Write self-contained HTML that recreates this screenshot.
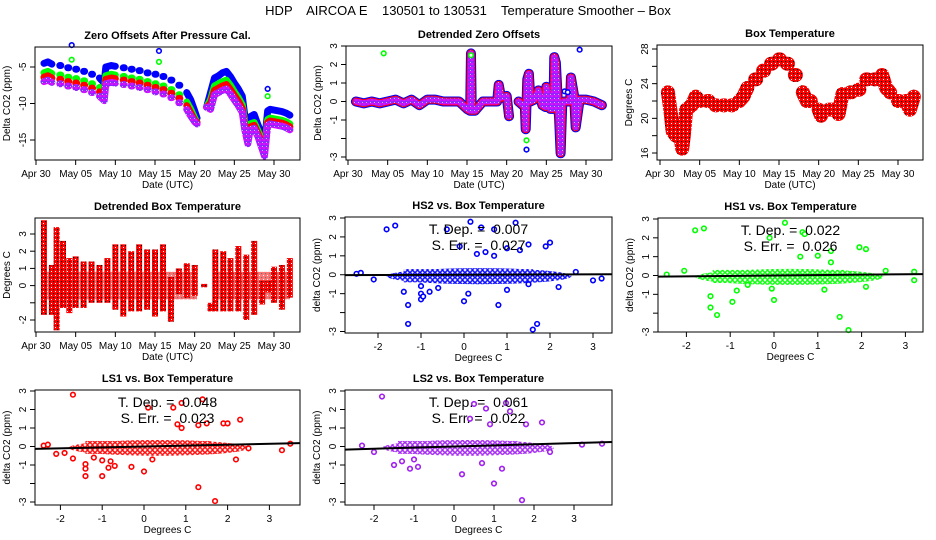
<!DOCTYPE html>
<html><head><meta charset="utf-8"><style>
html,body{margin:0;padding:0;background:#fff;}
svg{display:block;font-family:"Liberation Sans",sans-serif;}
</style></head><body>
<svg id="chart" width="936" height="540" viewBox="0 0 936 540">
<defs>
<pattern id="hatchMag" width="4" height="4" patternUnits="userSpaceOnUse"><rect width="4" height="4" fill="#ff00ff"/><circle cx="2" cy="2" r="1.2" fill="none" stroke="#4040ff" stroke-width="0.9"/><rect x="2" y="2" width="0.8" height="0.8" fill="#fff"/></pattern>
<pattern id="hatchRed" width="4" height="4" patternUnits="userSpaceOnUse"><rect width="4" height="4" fill="#ff0000"/><rect x="1" y="1" width="1.2" height="1.2" fill="#000"/><rect x="3" y="3" width="1" height="1" fill="#fff"/></pattern>
<pattern id="dotBlue" width="5" height="5" patternUnits="userSpaceOnUse"><rect width="5" height="5" fill="#fff"/><circle cx="2.5" cy="2.5" r="1.8" fill="none" stroke="#0000ff" stroke-width="1.4"/></pattern>
<pattern id="dotGreen" width="5" height="5" patternUnits="userSpaceOnUse"><rect width="5" height="5" fill="#fff"/><circle cx="2.5" cy="2.5" r="1.8" fill="none" stroke="#00ff00" stroke-width="1.4"/></pattern>
<pattern id="dotRed" width="5" height="5" patternUnits="userSpaceOnUse"><rect width="5" height="5" fill="#fff"/><circle cx="2.5" cy="2.5" r="1.8" fill="none" stroke="#ff0000" stroke-width="1.4"/></pattern>
<pattern id="dotMag" width="5" height="5" patternUnits="userSpaceOnUse"><rect width="5" height="5" fill="#fff"/><circle cx="2.5" cy="2.5" r="1.8" fill="none" stroke="#a020f0" stroke-width="1.4"/></pattern>
</defs>
<text x="468" y="15" text-anchor="middle" font-size="13" style="white-space:pre">HDP    AIRCOA E    130501 to 130531    Temperature Smoother – Box</text>
</svg>
<script>
// ---------- data ----------
const dateTicks = [0,5,10,15,20,25,30];
const dateTickLabels = ["Apr 30","May 05","May 10","May 15","May 20","May 25","May 30"];
const zeroTimes = [1,1.5,2,3,4,5,6,7,8,8.6,8.8,9.5,10,11,12,13,14,15,16,17,18,19,19.5,20,20.3,21.5,22,22.5,23,23.5,24,24.5,25,25.5,26,26.3,26.7,27,27.5,28,28.4,28.8,29.2,29.5,30,30.5,31,31.5,32];
const zeroHS2 = [-4.5,-4.3,-4.6,-4.8,-5.1,-5.3,-5.6,-6.0,-6.5,-7.2,-5.0,-4.8,-4.9,-5.1,-5.3,-5.5,-5.8,-6.0,-6.3,-6.8,-7.5,-8.5,-9.5,-11,-12,-10.5,-8.5,-6.5,-6.2,-5.8,-5.6,-6.3,-7.2,-8.0,-9.0,-11.5,-13.5,-11.8,-11.5,-13,-14,-15.5,-11,-10.8,-10.9,-11.0,-11.1,-11.3,-11.6];
const zeroHS1 = [-5.8,-5.6,-5.9,-6.1,-6.4,-6.6,-6.9,-7.3,-7.8,-8.5,-6.2,-6.0,-6.1,-6.3,-6.5,-6.7,-7.0,-7.3,-7.6,-8.1,-8.8,-9.8,-10.8,-12.0,-12.6,-10.5,-9.5,-7.6,-7.3,-7.0,-6.8,-7.5,-8.4,-9.2,-10.2,-12.5,-14.5,-12.8,-12.6,-13.8,-15,-16.3,-12.2,-12.0,-12.1,-12.2,-12.3,-12.5,-12.8];
const zeroLS1 = [-6.4,-6.2,-6.5,-6.7,-7.0,-7.2,-7.5,-7.9,-8.4,-9.0,-6.7,-6.5,-6.6,-6.8,-7.0,-7.2,-7.5,-7.8,-8.1,-8.6,-9.3,-10.3,-11.3,-12.3,-12.6,-10.5,-10.0,-8.2,-7.9,-7.6,-7.4,-8.1,-8.9,-9.7,-10.7,-13,-15,-13.2,-13.0,-14.2,-15.5,-16.8,-12.6,-12.4,-12.5,-12.6,-12.7,-12.9,-13.2];
const zeroLS2 = [-7.0,-6.8,-7.1,-7.3,-7.6,-7.8,-8.1,-8.5,-9.0,-9.6,-7.3,-7.1,-7.2,-7.4,-7.6,-7.8,-8.1,-8.4,-8.7,-9.2,-9.9,-10.8,-11.7,-12.5,-12.8,-10.5,-10.8,-8.8,-8.5,-8.2,-8.0,-8.7,-9.5,-10.3,-11.2,-13.5,-15.5,-13.6,-13.4,-14.6,-15.9,-17.2,-13.0,-12.8,-12.9,-13.0,-13.1,-13.3,-13.6];
const zeroOutT = [4.5,4.5,15.5,15.5,29.2,29.2];
const zeroOutV = [-2,-4,-2.8,-4.3,-8,-9];
const zeroOutC = ["#0000ff","#00ff00","#0000ff","#00ff00","#0000ff","#00ff00"];

const detT = [1,2,3,4,5,6,7,8,9,10,11,12,13,14,15,15.4,15.5,15.6,16,17,18,18.8,19,19.3,20,20.3,21.5,22.3,22.4,22.6,22.8,23,23.5,24,24.5,24.9,25,25.5,25.9,26,26.2,26.5,26.6,26.8,27,27.2,27.6,28,28.1,28.5,28.7,29.2,29.5,30,31,32];
const detV = [0,-0.1,0,-0.1,0,0.1,-0.1,0.1,-0.2,0.1,0.1,0,0,0,-0.4,-0.5,2.6,-0.5,-0.5,0,0,0,0.9,0.2,0.3,-0.8,0,-0.3,-1.5,1.2,1.5,0,0.1,0.6,-0.2,-0.3,0.8,-0.4,-0.4,2.4,2.1,-0.4,-0.8,-2.8,-0.2,0,0,0,1.3,0.3,-1.4,0.1,0.1,0.1,0,-0.2];
const detOutT = [4.5,15.5,22.5,22.5,27.3,27.7,29.2];
const detOutV = [2.6,2.5,-2.1,-2.6,0.55,0.5,2.8];
const detOutC = ["#00ff00","#00ff00","#00ff00","#0000ff","#0000ff","#0000ff","#0000ff"];

const boxT = [1,1.3,1.6,2,2.5,2.8,3,3.3,4,4.5,5,6,7,8,9,10,10.5,11,12,13,14,15,16,17,18,18.5,19,20,20.3,21.3,22.2,22.5,23,24,25,26,27,28,28.5,29,30,31,31.5,32];
const boxV = [23,21,18.5,18,18.5,16.5,18,21,21.5,22.5,22,22,21.5,21.5,21.5,22,22.5,23.5,24.5,25.5,26.3,26.8,26.3,25,23,22,22,21,20.3,21,21,20.5,22.8,23,23.3,24.5,24.5,25,23.5,23,22,22,21,22.5];

const dbT = [1,2,2.6,3.4,4.2,5,6,7,8,9,10,11,12,13,14,15,16,17,18,19,20,21.2,22,22.6,23.6,24.5,25.5,26.5,27.5,28.5,29.3,30,31,32];
const dbHi = [3.8,1.2,3.4,2.6,1.6,1.7,1.4,1.4,1.2,1.6,2.4,2.4,2,2.4,2.1,2.1,2.4,0.5,1,1.3,1.2,0.1,-1,2.1,2,1.6,2.3,1.8,2.6,0.3,0.3,1.1,1.2,1.6];
const dbLo = [-1.7,-1.7,-2.6,-1.3,-1.6,-1.3,-1.3,-1,-1,-1,-1.4,-1.8,-1.5,-1.5,-1.4,-1.8,-1.5,-2.1,-0.5,-0.7,-0.6,-0.1,-1.5,-1.5,-1.5,-1.5,-1.5,-2,-1.7,-1.1,-0.4,-1,-1.4,-0.7];

const hs2X = [-1.8,-1.6,-0.4,0.15,0.4,0.7,1.2,-0.1,0.3,0.5,0.7,1,1.3,1.5,1.9,2,-1.4,-1.3,-1.3,-1,-1,-0.8,0,0.1,0.8,1,1.6,1.7,3,3.2,-2.5,-2.4,-2.1,-0.6,2.2,1.5,-1.0,-0.95,2.6];
const hs2Y = [2.4,2.6,2.4,2.8,2.5,2.4,2.75,1.5,1.1,1.2,1,1.4,1.3,1.6,1.5,1.7,-0.9,-1.6,-2.6,-0.6,-1.3,-0.9,-1.4,-1,-1.6,-0.8,-2.9,-2.6,-0.3,-0.2,0.05,0.1,-0.25,-0.7,-0.65,-0.5,-1.0,-1.15,0.15];
const hs1X = [-1.6,-1.8,0.25,0.65,1.0,1.95,2.1,0.6,-2.45,-1.45,-1.45,-1.3,-0.95,-0.6,1.5,1.7,3.2,3.2,2.55,2.1,1.3,0,-2.05,1.15,-0.85,-0.1,0.7,-0.05,1.3];
const hs1Y = [2.5,2.4,2.8,2.3,1.05,1.5,1.4,1.0,0.05,-1.1,-1.7,-2.1,-1.4,-0.5,-2.2,-2.9,0.2,-0.25,0.25,-0.6,1.3,-1.3,0.25,-0.75,-0.8,2.0,2.2,-0.7,0.7];
const ls1X = [-1.7,0.1,0.7,0.9,1.4,0.9,1.3,1.5,1.9,2.0,2.3,0.8,-1.7,-1.4,-1.4,-1.4,-1,-1,-0.8,-0.85,-0.7,-0.3,0,0.2,1.3,1.7,2.2,3.3,3.5,-2.4,-2.3,-2.1,-1.9,-1.2,2.5];
const ls1Y = [2.8,2.1,2.1,2.35,2.55,1,1.15,1.25,1.25,1.25,1.45,1.2,-0.65,-0.95,-1.2,-1.6,-0.75,-1.6,-0.8,-1.15,-1.05,-1.1,-1.35,-0.7,-2.2,-2.95,-0.7,-0.2,0.15,0.05,0.1,-0.4,-0.35,-0.6,-0.1];
const ls2X = [-1.8,0.5,0.8,1.3,1.4,0.9,1.8,2.2,-1.1,-1.5,-1.3,-1,0.2,1.2,1.7,1,3.2,3.7,-2.3,-2,0.7,2.4,-0.9,0.4];
const ls2Y = [2.7,2.3,2.05,2.35,1.9,1.2,1.2,1.3,-1.2,-1.0,-0.8,-0.7,-1.5,-1.2,-2.9,-2.0,0.1,0.15,0.05,-0.3,-0.9,-0.3,-1.1,1.5];
const scatterTicks = [-2,-1,0,1,2,3];
const slopes = [0.007,0.022,0.048,0.061];
const serrs = [0.027,0.026,0.023,0.022];

// ---------- helpers ----------
const svg = document.getElementById('chart');
const NS = 'http://www.w3.org/2000/svg';
function mk(tag, attrs, parent){
  const e = document.createElementNS(NS, tag);
  for (const k in attrs) e.setAttribute(k, attrs[k]);
  (parent||svg).appendChild(e);
  return e;
}
function lin(d0,d1,r0,r1){ return v => r0 + (v-d0)*(r1-r0)/(d1-d0); }

function panel(p){
  const g = mk('g', {});
  
  
  const [l,t,r,b] = p.box;
  const cx = (l+r)/2;
  const ti = mk('text', {x:cx, y:t-8, 'text-anchor':'middle', 'font-size':'11', 'font-weight':'bold'}, g);
  ti.textContent = p.title;
  
  
  const plot = mk('g', {}, g);
  
  
  const xa = mk('g', {}, g);
  
  
  const xs = p.xTicks.map(p.sx);
  mk('line', {x1:xs[0], x2:xs[xs.length-1], y1:b, y2:b, stroke:'#000'}, xa);
  p.xTicks.forEach((v,i)=>{
    mk('line', {x1:xs[i], x2:xs[i], y1:b, y2:b+5, stroke:'#000'}, xa);
    const tx = mk('text', {x:xs[i], y:b+17, 'text-anchor':'middle', 'font-size':'10'}, xa);
    tx.textContent = p.xLabels[i];
    
    
  });
  const xt = mk('text', {x:cx, y:b+28, 'text-anchor':'middle', 'font-size':'10'}, g);
  xt.textContent = p.xTitle;
  
  
  const ya = mk('g', {}, g);
  
  
  const ys = p.yTicks.map(p.sy);
  mk('line', {x1:l, x2:l, y1:ys[0], y2:ys[ys.length-1], stroke:'#000'}, ya);
  p.yTicks.forEach((v,i)=>{
    mk('line', {x1:l-5, x2:l, y1:ys[i], y2:ys[i], stroke:'#000'}, ya);
    if (p.yLabels[i] !== '') {
      const tx = mk('text', {x:l-9, y:ys[i], 'text-anchor':'middle', 'font-size':'10', transform:`rotate(-90 ${l-9} ${ys[i]})`}, ya);
      tx.textContent = p.yLabels[i];
      
      
    }
  });
  const yx = l-25, yy=(t+b)/2;
  const yt = mk('text', {x:yx, y:yy, 'text-anchor':'middle', 'font-size':'10', transform:`rotate(-90 ${yx} ${yy})`}, g);
  yt.textContent = p.yTitle;
  
  
  const bx = mk('rect', {x:l, y:t, width:r-l, height:b-t, fill:'none', stroke:'#000'}, g);
  
  
  return plot;
}
function marker(parent, x, y, color){
  const c = mk('circle', {cx:x, cy:y, r:2.3, fill:'#fff', stroke:color, 'stroke-width':1.6}, parent);
  
  
}
function band(parent, T, V, sx, sy, stroke, width, gap, cap){
  let segs=[], cur=[];
  T.forEach((t,i)=>{
    if (cur.length && t - T[i-1] > gap){ segs.push(cur); cur=[]; }
    cur.push([sx(t), sy(V[i])]);
  });
  segs.push(cur);
  segs.forEach(s=>{
    if (s.length===1) s.push([s[0][0]+1, s[0][1]]);
    const pl = mk('polyline', {points:s.map(q=>q.join(',')).join(' '), fill:'none', stroke:stroke, 'stroke-width':width, 'stroke-linejoin':cap||'round', 'stroke-linecap':cap==='miter'?'butt':'round'}, parent);
    
    
  });
}

// ---------- Panel 1 ----------
{
  const sx = lin(0,30,36,274), sy = lin(-5,-15,67,140);
  const pl = panel({name:'zero-offsets-panel', box:[35,47,300,160], title:'Zero Offsets After Pressure Cal.', sx, sy,
    xTicks:dateTicks, xLabels:dateTickLabels, xTitle:'Date (UTC)', yTicks:[-5,-10,-15], yLabels:['-5','-10','-15'], yTitle:'Delta CO2 (ppm)'});
  band(pl, zeroTimes, zeroHS2, sx, sy, '#0000ff', 7, 0.9);
  band(pl, zeroTimes, zeroHS1, sx, sy, '#00ff00', 7, 0.9);
  band(pl, zeroTimes, zeroLS1, sx, sy, '#ff0000', 7, 0.9);
  band(pl, zeroTimes, zeroLS2, sx, sy, 'url(#hatchMag)', 7, 0.9);
  zeroOutT.forEach((t,i)=>marker(pl, sx(t), sy(zeroOutV[i]), zeroOutC[i]));
}
// ---------- Panel 2 ----------
{
  const sx = lin(0,30,348,586), sy = lin(3,-3,46,157);
  const pl = panel({name:'detrended-zero-offsets-panel', box:[346,46,612,160], title:'Detrended Zero Offsets', sx, sy,
    xTicks:dateTicks, xLabels:dateTickLabels, xTitle:'Date (UTC)', yTicks:[3,2,1,0,-1,-2,-3], yLabels:['3','2','1','0','-1','','-3'], yTitle:'Delta CO2 (ppm)'});
  band(pl, detT, detV, sx, sy, '#0000ff', 10, 1.1);
  band(pl, detT, detV, sx, sy, '#ff0000', 8, 1.1);
  band(pl, detT, detV, sx, sy, 'url(#hatchMag)', 6, 1.1);
  detOutT.forEach((t,i)=>marker(pl, sx(t), sy(detOutV[i]), detOutC[i]));
}
// ---------- Panel 3 ----------
{
  const sx = lin(0,30,660,898), sy = lin(28,16,49,153);
  const pl = panel({name:'box-temperature-panel', box:[657,45,923,160], title:'Box Temperature', sx, sy,
    xTicks:dateTicks, xLabels:dateTickLabels, xTitle:'Date (UTC)', yTicks:[28,26,24,22,20,18,16], yLabels:['28','','24','','20','','16'], yTitle:'Degrees C'});
  band(pl, boxT, boxV, sx, sy, 'url(#hatchRed)', 14, 0.95);
}
// ---------- Panel 4 ----------
{
  const sx = lin(0,30,36,274), sy = lin(3,-2,234,320);
  const pl = panel({name:'detrended-box-temperature-panel', box:[35,218,300,332], title:'Detrended Box Temperature', sx, sy,
    xTicks:dateTicks, xLabels:dateTickLabels, xTitle:'Date (UTC)', yTicks:[3,2,1,0,-1,-2], yLabels:['3','2','1','0','','-2'], yTitle:'Degrees C'});
  dbT.forEach((t,i)=>{
    const r = mk('rect', {x:sx(t)-3, y:sy(dbHi[i]), width:6, height:Math.max(3, sy(dbLo[i])-sy(dbHi[i])), fill:'url(#hatchRed)'}, pl);
    
    
  });
  const mb = mk('rect', {x:sx(1), y:sy(0.8), width:sx(20.3)-sx(1), height:sy(-0.8)-sy(0.8), fill:'url(#hatchRed)', opacity:0.55}, pl);
  
  
  const mb2 = mk('rect', {x:sx(22.6), y:sy(0.8), width:sx(32)-sx(22.6), height:sy(-0.8)-sy(0.8), fill:'url(#hatchRed)', opacity:0.55}, pl);
  
  
}
// ---------- Scatter panels ----------
const scat = [
  {name:'hs2-scatter-panel', title:'HS2 vs. Box Temperature', box:[345,217,612,333], x0:464, ux:43, y3:218, ym3:331.5, X:hs2X, Y:hs2Y, col:'#0000ff', pat:'url(#dotBlue)', k:0},
  {name:'hs1-scatter-panel', title:'HS1 vs. Box Temperature', box:[658,218,923,332], x0:774, ux:43.8, y3:219, ym3:332, X:hs1X, Y:hs1Y, col:'#00ff00', pat:'url(#dotGreen)', k:1},
  {name:'ls1-scatter-panel', title:'LS1 vs. Box Temperature', box:[35,390,300,505], x0:144, ux:41.8, y3:391, ym3:502, X:ls1X, Y:ls1Y, col:'#ff0000', pat:'url(#dotRed)', k:2},
  {name:'ls2-scatter-panel', title:'LS2 vs. Box Temperature', box:[345,390,612,505], x0:454, ux:40, y3:391, ym3:502, X:ls2X, Y:ls2Y, col:'#a020f0', pat:'url(#dotMag)', k:3},
];
scat.forEach(s=>{
  const sx = v => s.x0 + v*s.ux, sy = lin(3,-3,s.y3,s.ym3);
  const pl = panel({name:s.name, box:s.box, title:s.title, sx, sy,
    xTicks:scatterTicks, xLabels:scatterTicks.map(String), xTitle:'Degrees C', yTicks:[3,2,1,0,-1,-2,-3], yLabels:['3','2','1','0','-1','','-3'], yTitle:'delta CO2 (ppm)'});
  const bd = mk('ellipse', {cx:(sx(-1.8)+sx(2.5))/2, cy:(sy(0.35)+sy(-0.5))/2, rx:(sx(2.5)-sx(-1.8))/2, ry:(sy(-0.5)-sy(0.35))/2, fill:s.pat}, pl);
  
  
  const bd2 = mk('rect', {x:sx(-1.4), y:sy(0.3), width:sx(1.6)-sx(-1.4), height:sy(-0.4)-sy(0.3), fill:s.pat}, pl);
  
  
  s.X.forEach((x,i)=>marker(pl, sx(x), sy(s.Y[i]), s.col));
  const [l,t,r,b] = s.box;
  const xl = (l - s.x0)/s.ux, xr = (r - s.x0)/s.ux;
  const fl = mk('line', {x1:l, x2:r, y1:sy(slopes[s.k]*xl), y2:sy(slopes[s.k]*xr), stroke:'#000', 'stroke-width':2}, pl);
  
  
  const cx = (l+r)/2;
  const t1 = mk('text', {x:cx, y:t+17, 'text-anchor':'middle', 'font-size':'14', style:'white-space:pre'}, pl);
  t1.textContent = 'T. Dep. =  ' + slopes[s.k].toFixed(3);
  
  
  const t2 = mk('text', {x:cx, y:t+33, 'text-anchor':'middle', 'font-size':'14', style:'white-space:pre'}, pl);
  t2.textContent = 'S. Err. =  ' + serrs[s.k].toFixed(3);
  
  
});
</script>
</body></html>
